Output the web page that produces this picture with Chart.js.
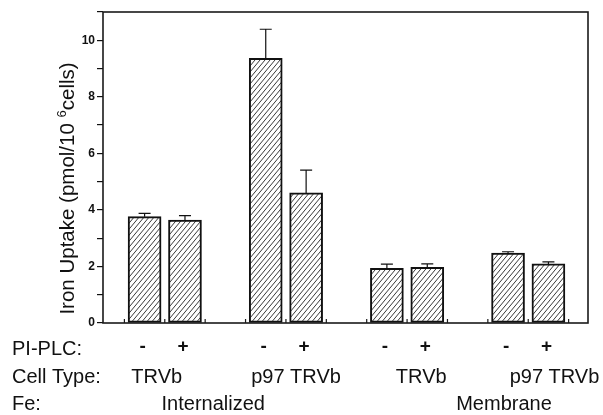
<!DOCTYPE html>
<html>
<head>
<meta charset="utf-8">
<script src="https://cdn.jsdelivr.net/npm/chart.js@4/dist/chart.umd.min.js"></script>
<style>
  html, body { margin: 0; padding: 0; background: #fff; }
  #c { display: block; }
</style>
</head>
<body>
<canvas id="c" width="603" height="415"></canvas>
<script>
// ---- data ----
const barPositions = [0, 1, 3, 4, 6, 7, 9, 10];
const uptake = [3.76, 3.64, 9.36, 4.60, 1.93, 1.97, 2.47, 2.09];
const uptakeErr = [0.12, 0.16, 1.03, 0.81, 0.15, 0.12, 0.05, 0.07];
const piPlcLabels = ['-', '+', '-', '+', '-', '+', '-', '+'];
const cellTypes = ['TRVb', 'p97 TRVb', 'TRVb', 'p97 TRVb'];
const cellTypePositions = [0.3, 3.75, 6.85, 10.15];
const feLabels = ['Internalized', 'Membrane'];
const fePositions = [1.7, 8.9];
const rowTitles = ['PI-PLC:', 'Cell Type:', 'Fe:'];
const yTicks = [0, 2, 4, 6, 8, 10];

// ---- hatch pattern ----
function makeHatch() {
  const w = 5, h = 6;
  const pc = document.createElement('canvas');
  pc.width = w; pc.height = h;
  const g = pc.getContext('2d');
  g.fillStyle = '#fff';
  g.fillRect(0, 0, w, h);
  g.strokeStyle = '#222';
  g.lineWidth = 0.9;
  g.beginPath();
  g.moveTo(-w, 2 * h); g.lineTo(2 * w, -h);
  g.moveTo(-2 * w, 2 * h); g.lineTo(w, -h);
  g.moveTo(0, 2 * h); g.lineTo(3 * w, -h);
  g.stroke();
  return g.createPattern(pc, 'repeat');
}

const FONT = '"Liberation Sans", Arial, sans-serif';

const decorPlugin = {
  id: 'decor',
  afterDatasetsDraw(chart) {
    const ctx = chart.ctx;
    const xs = chart.scales.x, ys = chart.scales.y;
    ctx.save();
    ctx.strokeStyle = '#111';
    ctx.lineWidth = 1.2;
    barPositions.forEach((p, i) => {
      const x = xs.getPixelForValue(p);
      const yTop = ys.getPixelForValue(uptake[i]);
      const yErr = ys.getPixelForValue(uptake[i] + uptakeErr[i]);
      ctx.beginPath();
      ctx.moveTo(x, yTop); ctx.lineTo(x, yErr);
      ctx.moveTo(x - 6, yErr); ctx.lineTo(x + 6, yErr);
      ctx.stroke();
    });
    ctx.restore();
  },
  afterDraw(chart) {
    const ctx = chart.ctx;
    const a = chart.chartArea;
    const xs = chart.scales.x;
    ctx.save();
    // frame
    ctx.strokeStyle = '#1a1a1a';
    ctx.lineWidth = 1.6;
    ctx.strokeRect(a.left, a.top, a.right - a.left, a.bottom - a.top);
    // x-axis inward minor ticks at half positions
    ctx.lineWidth = 1.2;
    ctx.beginPath();
    for (let v = -0.5; v <= 10.5; v += 1) {
      const x = xs.getPixelForValue(v);
      ctx.moveTo(x, a.bottom); ctx.lineTo(x, a.bottom - 4);
    }
    ctx.stroke();

    // y-axis title with superscript
    ctx.fillStyle = '#111';
    ctx.translate(68, (a.top + a.bottom) / 2 + 21);
    ctx.rotate(-Math.PI / 2);
    ctx.textBaseline = 'alphabetic';
    ctx.textAlign = 'left';
    const mainFont = '20.5px ' + FONT, supFont = '13px ' + FONT;
    const p1 = 'Iron Uptake (pmol/10 ', p2 = '6', p3 = 'cells)';
    ctx.font = mainFont;
    const w1 = ctx.measureText(p1).width, w3 = ctx.measureText(p3).width;
    ctx.font = supFont;
    const w2 = ctx.measureText(p2).width;
    let sx = -(w1 + w2 + w3) / 2;
    ctx.font = mainFont; ctx.fillText(p1, sx, 6); sx += w1;
    ctx.font = supFont; ctx.fillText(p2, sx, -2); sx += w2;
    ctx.font = mainFont; ctx.fillText(p3, sx, 6);
    ctx.restore();

    // bottom label rows
    ctx.save();
    ctx.fillStyle = '#111';
    ctx.textBaseline = 'middle';
    ctx.font = '20px ' + FONT;
    ctx.textAlign = 'left';
    const rowY = [349, 377, 404];
    rowTitles.forEach((t, i) => ctx.fillText(t, 12, rowY[i]));
    ctx.textAlign = 'center';
    ctx.font = 'bold 19px ' + FONT;
    piPlcLabels.forEach((t, i) => ctx.fillText(t, xs.getPixelForValue(barPositions[i]) - 2, rowY[0] - 2));
    ctx.font = '20px ' + FONT;
    cellTypes.forEach((t, i) => ctx.fillText(t, xs.getPixelForValue(cellTypePositions[i]), rowY[1]));
    feLabels.forEach((t, i) => ctx.fillText(t, xs.getPixelForValue(fePositions[i]), rowY[2]));
    ctx.restore();
  }
};

new Chart(document.getElementById('c'), {
  type: 'bar',
  data: {
    datasets: [{
      data: barPositions.map((p, i) => ({ x: p, y: uptake[i] })),
      backgroundColor: makeHatch(),
      borderColor: '#111',
      borderWidth: 2,
      borderSkipped: false,
      barThickness: 33
    }]
  },
  options: {
    responsive: false,
    animation: false,
    devicePixelRatio: 1,
    layout: { padding: { top: 12, right: 15, bottom: 92, left: 0 } },
    plugins: { legend: { display: false }, tooltip: { enabled: false } },
    scales: {
      x: {
        type: 'linear',
        min: -1.03,
        max: 10.98,
        offset: false,
        display: false
      },
      y: {
        min: 0,
        max: 11,
        afterFit: s => { s.width = 103; },
        afterBuildTicks: s => {
          s.ticks = [];
          for (let v = 0; v <= 11; v++) s.ticks.push({ value: v });
        },
        ticks: {
          color: '#111',
          padding: 2,
          font: { family: FONT, size: 12, weight: 'bold' },
          callback: v => (yTicks.includes(v) ? String(v) : '')
        },
        grid: { drawOnChartArea: false, drawTicks: true, tickLength: 6, color: '#111', lineWidth: 1.2 },
        border: { display: false }
      }
    }
  },
  plugins: [decorPlugin]
});
</script>
</body>
</html>
